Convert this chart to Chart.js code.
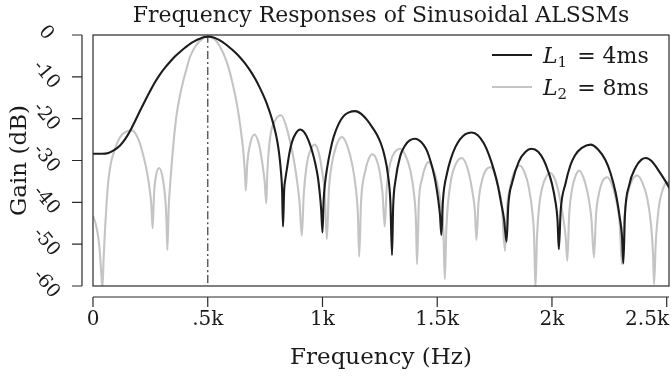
<!DOCTYPE html>
<html>
<head>
<meta charset="utf-8">
<script src="https://cdn.jsdelivr.net/npm/chart.js@4.4.0/dist/chart.umd.min.js"></script>
<style>
  html, body { margin: 0; padding: 0; background: #fff; }
  #wrap { width: 671px; height: 385px; position: relative; }
</style>
</head>
<body>
<div id="wrap"><canvas id="freqChart"></canvas></div>
<script>
const chartTitle = "Frequency Responses of Sinusoidal ALSSMs";
const xAxisTitle = "Frequency (Hz)";
const yAxisTitle = "Gain (dB)";
const xTickValues = [0, 500, 1000, 1500, 2000, 2500];
const xTickLabels = ["0", ".5k", "1k", "1.5k", "2k", "2.5k"];
const yTickValues = [0, -10, -20, -30, -40, -50, -60];
const yTickLabels = ["0", "-10", "-20", "-30", "-40", "-50", "-60"];
const markerFreq = 500;

// L1 = 4ms (black)
const freqL1 = [
    0, 40, 67, 90, 118, 140, 161, 183, 205, 227,
    249, 270, 292, 314, 336, 358, 380, 402, 423, 445,
    465, 485, 505, 525, 547, 565, 585, 602, 620, 640,
    660, 676, 692, 708, 725, 738, 750, 762, 772, 783,
    794, 803, 811, 818, 824, 828, 833, 838, 845, 856,
    867, 885, 903, 921, 939, 955, 969, 980, 987, 994,
    1000, 1005, 1011, 1019, 1035, 1049, 1070, 1092, 1115, 1143,
    1170, 1194, 1215, 1238, 1255, 1270, 1285, 1296, 1303, 1308,
    1318, 1339, 1360, 1380, 1405, 1430, 1450, 1463, 1480, 1492,
    1505, 1512, 1518, 1525, 1543, 1560, 1579, 1600, 1623, 1650,
    1678, 1703, 1725, 1747, 1765, 1778, 1791, 1802, 1810, 1827,
    1856, 1885, 1910, 1940, 1965, 1985, 2001, 2015, 2024, 2030,
    2038, 2059, 2080, 2100, 2130, 2168, 2200, 2234, 2255, 2277,
    2295, 2305, 2311, 2318, 2336, 2365, 2390, 2410, 2435, 2467,
    2495, 2520
];
const gainL1 = [
    -28.4, -28.4, -28.2, -27.6, -26.4, -24.9, -23.0, -20.6, -18.1, -15.7,
    -13.4, -11.3, -9.4, -7.8, -6.4, -5.1, -4.0, -3.0, -2.1, -1.4,
    -0.9, -0.5, -0.4, -0.6, -1.1, -1.7, -2.5, -3.3, -4.2, -5.3,
    -6.6, -7.8, -9.1, -10.6, -12.4, -13.9, -15.4, -17.1, -18.7, -20.7,
    -23.0, -25.4, -28.3, -32.0, -37.0, -45.8, -37.0, -34.5, -32.0, -28.2,
    -25.6, -23.4, -22.6, -23.3, -25.2, -27.8, -30.8, -34.0, -37.2, -41.5,
    -47.2, -39.5, -35.5, -32.2, -27.4, -24.3, -21.3, -19.4, -18.5, -18.2,
    -18.9, -20.3, -21.9, -23.9, -26.0, -28.8, -33.3, -40.0, -52.6, -41.0,
    -34.8, -28.9, -26.4, -25.2, -24.8, -25.6, -27.1, -28.8, -32.0, -35.0,
    -39.6, -43.0, -47.8, -39.5, -33.0, -29.5, -26.8, -24.9, -23.7, -23.3,
    -24.0, -25.9, -28.6, -32.3, -36.2, -40.0, -44.0, -49.4, -40.5, -35.2,
    -30.2, -27.9, -27.2, -27.9, -30.0, -32.8, -35.8, -39.8, -44.0, -51.2,
    -42.0, -35.5, -31.2, -28.8, -27.0, -26.2, -27.3, -30.0, -33.0, -37.6,
    -43.5, -48.0, -54.6, -43.0, -36.0, -31.6, -29.8, -29.4, -30.2, -32.6,
    -35.0, -37.4
];

// L2 = 8ms (grey)
const freqL2 = [
    0, 12, 23, 30, 36, 41, 46, 52, 60, 67,
    78, 89, 104, 118, 140, 169, 190, 205, 220, 234,
    246, 254, 260, 266, 275, 289, 303, 314, 320, 324,
    330, 337, 343, 354, 365, 380, 394, 410, 423, 445,
    475, 503, 530, 561, 585, 605, 620, 634, 646, 656,
    662, 666, 672, 685, 704, 720, 729, 740, 748, 755,
    760, 772, 794, 820, 840, 860, 875, 889, 900, 910,
    918, 932, 948, 966, 983, 998, 1010, 1019, 1028, 1041,
    1060, 1085, 1108, 1129, 1145, 1154, 1160, 1168, 1187, 1200,
    1216, 1232, 1249, 1262, 1271, 1280, 1296, 1318, 1339, 1362,
    1383, 1400, 1407, 1412, 1420, 1434, 1448, 1463, 1480, 1500,
    1518, 1527, 1533, 1540, 1558, 1580, 1606, 1630, 1652, 1664,
    1671, 1680, 1696, 1712, 1732, 1750, 1768, 1782, 1795, 1805,
    1819, 1838, 1860, 1880, 1899, 1915, 1922, 1928, 1935, 1945,
    1958, 1975, 1994, 2012, 2030, 2050, 2060, 2067, 2075, 2090,
    2105, 2118, 2140, 2161, 2172, 2183, 2192, 2205, 2220, 2241,
    2260, 2277, 2295, 2305, 2315, 2330, 2350, 2372, 2395, 2415,
    2432, 2440, 2445, 2452, 2465, 2485, 2503, 2520
];
const gainL2 = [
    -43.2, -45.2, -48.4, -52.0, -57.0, -60.5, -54.0, -46.8, -39.5, -34.8,
    -30.6, -28.4, -26.0, -24.4, -23.2, -22.8, -24.0, -26.0, -29.0, -32.4,
    -36.5, -40.5, -46.2, -38.0, -33.5, -31.8, -34.0, -38.5, -44.0, -51.4,
    -41.0, -35.0, -30.8, -24.0, -18.8, -14.2, -10.8, -7.6, -5.2, -2.8,
    -1.0, -0.4, -1.0, -3.6, -6.8, -10.8, -14.5, -18.8, -23.5, -28.4,
    -33.0, -37.2, -31.0, -26.0, -23.8, -25.5, -27.6, -31.5, -35.0, -40.2,
    -32.5, -24.4, -20.4, -19.2, -21.5, -25.8, -29.8, -34.8, -40.0, -48.0,
    -38.5, -30.8, -27.5, -26.2, -28.0, -32.4, -38.0, -48.8, -37.0, -30.8,
    -26.5, -24.4, -26.5, -30.8, -36.5, -42.5, -53.0, -40.0, -32.4, -29.8,
    -28.5, -29.3, -32.6, -38.0, -45.8, -36.5, -30.5, -27.8, -27.2, -28.8,
    -32.4, -38.5, -44.0, -54.8, -40.0, -34.4, -31.5, -30.4, -31.8, -35.4,
    -41.5, -47.0, -58.4, -46.0, -35.4, -31.0, -29.4, -31.5, -37.0, -42.0,
    -49.0, -40.0, -34.6, -32.3, -31.6, -33.0, -36.6, -41.0, -51.6, -41.0,
    -36.0, -32.5, -31.2, -32.8, -36.4, -42.5, -48.0, -60.5, -48.0, -40.5,
    -36.4, -33.8, -33.0, -34.4, -37.8, -44.0, -48.5, -54.0, -43.0, -36.2,
    -33.4, -32.4, -34.5, -39.4, -44.0, -53.2, -43.0, -37.8, -35.0, -34.0,
    -35.5, -38.8, -45.0, -54.8, -44.0, -38.0, -34.6, -33.6, -35.4, -39.0,
    -45.5, -52.0, -59.6, -50.0, -41.5, -36.6, -35.2, -35.8
];

const serif = "'DejaVu Serif', serif";
const toPoints = (xs, ys) => xs.map((x, i) => ({ x: x, y: ys[i] }));

// axes, titles and legend drawn around the plot box (offset axes like the original)
const decorations = {
    id: "decorations",
    afterDraw(chart) {
        const ctx = chart.ctx;
        const area = chart.chartArea;
        const xs = chart.scales.x;
        const ys = chart.scales.y;
        ctx.save();

        // plot box
        ctx.strokeStyle = "#2a2a2a";
        ctx.lineWidth = 1.2;
        ctx.strokeRect(area.left, area.top, area.right - area.left, area.bottom - area.top);

        // y axis
        const yAxisX = area.left - 11;
        ctx.beginPath();
        ctx.moveTo(yAxisX, ys.getPixelForValue(yTickValues[0]));
        ctx.lineTo(yAxisX, ys.getPixelForValue(yTickValues[yTickValues.length - 1]));
        yTickValues.forEach(v => {
            const py = ys.getPixelForValue(v);
            ctx.moveTo(yAxisX - 10, py);
            ctx.lineTo(yAxisX, py);
        });
        // x axis
        const xAxisY = area.bottom + 11;
        ctx.moveTo(xs.getPixelForValue(0), xAxisY);
        ctx.lineTo(area.right, xAxisY);
        xTickValues.forEach(v => {
            const px = xs.getPixelForValue(v);
            ctx.moveTo(px, xAxisY);
            ctx.lineTo(px, xAxisY + 10);
        });
        ctx.stroke();

        ctx.fillStyle = "#1a1a1a";
        // y tick labels, rotated
        ctx.font = "19px " + serif;
        ctx.textAlign = "center";
        ctx.textBaseline = "middle";
        yTickValues.forEach((v, i) => {
            const py = ys.getPixelForValue(v);
            ctx.save();
            ctx.translate(46, py - 2);
            ctx.rotate(50 * Math.PI / 180);
            ctx.fillText(yTickLabels[i], 0, 0);
            ctx.restore();
        });
        // x tick labels (last one kept inside the figure)
        ctx.font = "20px " + serif;
        xTickValues.forEach((v, i) => {
            let px = xs.getPixelForValue(v);
            const half = ctx.measureText(xTickLabels[i]).width / 2;
            if (px + half > chart.width - 2) px = chart.width - 2 - half;
            ctx.fillText(xTickLabels[i], px, 320);
        });

        // titles
        const midX = (area.left + area.right) / 2;
        ctx.font = "22px " + serif;
        ctx.fillText(chartTitle, midX, 16);
        ctx.font = "23px " + serif;
        ctx.fillText(xAxisTitle, midX, 358);
        ctx.save();
        ctx.translate(20, (area.top + area.bottom) / 2);
        ctx.rotate(-Math.PI / 2);
        ctx.fillText(yAxisTitle, 0, 0);
        ctx.restore();

        // legend
        const rows = [
            { ds: chart.data.datasets[0], sub: "1", rest: "= 4ms" },
            { ds: chart.data.datasets[1], sub: "2", rest: "= 8ms" }
        ];
        rows.forEach((r, i) => {
            const ly = 55 + i * 32;
            ctx.strokeStyle = r.ds.borderColor;
            ctx.lineWidth = r.ds.borderWidth;
            ctx.beginPath();
            ctx.moveTo(492, ly);
            ctx.lineTo(532, ly);
            ctx.stroke();
            ctx.fillStyle = "#1a1a1a";
            ctx.textAlign = "left";
            ctx.textBaseline = "alphabetic";
            let tx = 543;
            const base = ly + 8;
            ctx.font = "italic 22px " + serif;
            ctx.fillText("L", tx, base);
            tx += ctx.measureText("L").width;
            ctx.font = "15px " + serif;
            ctx.fillText(r.sub, tx, base + 4);
            tx += ctx.measureText(r.sub).width + 10;
            ctx.font = "22px " + serif;
            ctx.fillText(r.rest, tx, base);
        });
        ctx.restore();
    }
};

new Chart(document.getElementById("freqChart").getContext("2d"), {
    type: "line",
    data: {
        datasets: [
            {
                label: "L₁ = 4ms",
                data: toPoints(freqL1, gainL1),
                borderColor: "#1c1c1c",
                borderWidth: 2.1,
                pointRadius: 0
            },
            {
                label: "L₂ = 8ms",
                data: toPoints(freqL2, gainL2),
                borderColor: "#c4c4c4",
                borderWidth: 2.1,
                pointRadius: 0
            },
            {
                label: "marker",
                data: [{ x: markerFreq, y: 0 }, { x: markerFreq, y: -60 }],
                borderColor: "#555",
                borderWidth: 1.4,
                borderDash: [8, 3, 2, 3],
                pointRadius: 0
            }
        ]
    },
    options: {
        responsive: true,
        maintainAspectRatio: false,
        animation: false,
        layout: { padding: { left: 93, top: 35, right: 2, bottom: 99 } },
        elements: { line: { cubicInterpolationMode: "monotone" } },
        scales: {
            x: { type: "linear", min: 0, max: 2510, display: false },
            y: { type: "linear", min: -60, max: 0, display: false }
        },
        plugins: {
            legend: { display: false },
            tooltip: { enabled: false },
            title: { display: false }
        }
    },
    plugins: [decorations]
});
</script>
</body>
</html>
